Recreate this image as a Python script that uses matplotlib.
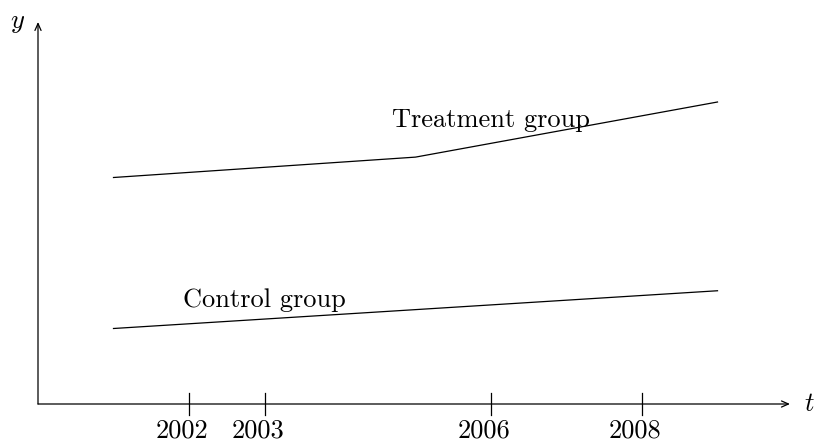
import matplotlib

matplotlib.use("Agg")
import matplotlib.pyplot as plt

# Group trajectories over time (years on t, outcome on y)
treatment_years = [2001, 2005, 2009]
treatment_values = [3.0, 3.27, 4.0]
control_years = [2001, 2009]
control_values = [1.0, 1.5]
tick_years = [2002, 2003, 2006, 2008]
tick_labels = ["2002", "2003", "2006", "2008"]

X0 = 2000  # where the axes cross
PX_PER_UNIT = 75.5
FONT_SIZE = 19
LABEL_SHIFT = -0.09  # year labels sit a little left of their tick

plt.rcParams["mathtext.fontset"] = "cm"

fig = plt.figure(figsize=(8.16, 4.41), dpi=100)
ax = fig.add_axes([0, 0, 1, 1])
ax.set_xlim(X0 - 38 / PX_PER_UNIT, X0 + 778 / PX_PER_UNIT)
ax.set_ylim(-37 / PX_PER_UNIT, 404 / PX_PER_UNIT)
ax.axis("off")

arrow = dict(arrowstyle="->,head_length=0.5,head_width=0.22", lw=0.9,
             color="black", shrinkA=0, shrinkB=0)
ax.annotate("", xy=(X0 + 9.96, 0), xytext=(X0, 0), arrowprops=arrow)
ax.annotate("", xy=(X0, 5.06), xytext=(X0, 0), arrowprops=arrow)
ax.text(X0 + 10.22, 0, "$t$", fontsize=FONT_SIZE, ha="center", va="center")
ax.text(X0 - 0.27, 5.06, "$y$", fontsize=FONT_SIZE, ha="center", va="center")

for year, label in zip(tick_years, tick_labels):
    ax.plot([year, year], [-0.15, 0.15], color="black", lw=0.9)
    ax.text(year + LABEL_SHIFT, -0.44, label, family="cmr10",
            fontsize=FONT_SIZE, ha="center", va="baseline")

ax.plot(treatment_years, treatment_values, color="black", lw=0.9)
ax.plot(control_years, control_values, color="black", lw=0.9)

ax.text(2006, 3.67, "Treatment group", family="cmr10", fontsize=FONT_SIZE,
        ha="center", va="baseline")
ax.text(2003, 1.28, "Control group", family="cmr10", fontsize=FONT_SIZE,
        ha="center", va="baseline")

fig.savefig("out.png", dpi=100)
